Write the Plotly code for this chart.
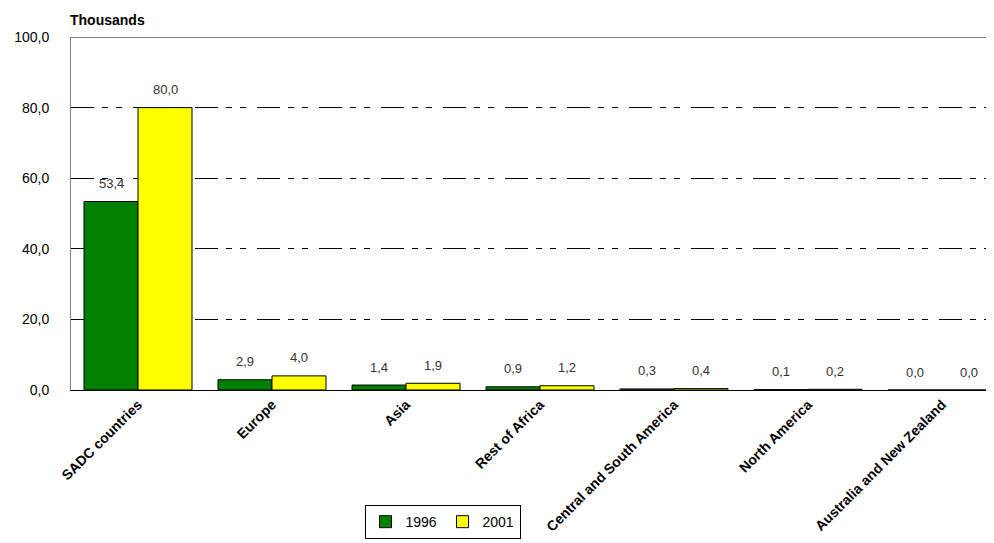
import plotly.graph_objects as go

categories = ["SADC countries", "Europe", "Asia", "Rest of Africa",
              "Central and South America", "North America", "Australia and New Zealand"]
v1996 = [53.4, 2.9, 1.4, 0.9, 0.3, 0.1, 0.0]
v2001 = [80.0, 4.0, 1.9, 1.2, 0.4, 0.2, 0.0]
series_names = ["1996", "2001"]
y_ticks = [0, 20, 40, 60, 80, 100]

SANS = "Liberation Sans, Arial"

fig = go.Figure()
fig.add_trace(go.Bar(x=categories, y=v1996, name=series_names[0],
                     marker=dict(color="#008000", line=dict(color="#000000", width=1))))
fig.add_trace(go.Bar(x=categories, y=v2001, name=series_names[1],
                     marker=dict(color="#FFFF00", line=dict(color="#000000", width=1))))

def fmt(v):
    return f"{v:.1f}".replace(".", ",")

for i, c in enumerate(categories):
    for vals, dx in ((v1996, -27), (v2001, 27)):
        fig.add_annotation(x=c, y=vals[i], text=fmt(vals[i]), showarrow=False,
                           xshift=dx, yshift=18,
                           font=dict(family=SANS, size=13, color="#333333"))

fig.add_annotation(xref="paper", yref="paper", x=-0.003, y=1.0, yshift=17,
                   xanchor="left", yanchor="middle", text="<b>Thousands</b>", showarrow=False,
                   font=dict(family=SANS, size=14, color="#000000"))

fig.update_layout(
    width=986, height=535,
    margin=dict(l=63, r=0, t=29, b=153, autoexpand=False),
    paper_bgcolor="white", plot_bgcolor="white",
    barmode="group", bargap=0.194, bargroupgap=0,
    separators=",.",
    font=dict(family=SANS, size=12, color="#000000"),
    showlegend=True,
    legend=dict(orientation="h", x=0.318, y=-0.326, xanchor="left", yanchor="top",
                bordercolor="#000000", borderwidth=1, bgcolor="white",
                font=dict(family=SANS, size=14), itemwidth=30, tracegroupgap=0,
                entrywidthmode="pixels", entrywidth=32),
    xaxis=dict(range=[-0.5, 6.388], tickangle=-45, showline=True, linecolor="#000000",
               linewidth=1, ticks="", automargin=False,
               tickfont=dict(family=SANS, size=14),
               showgrid=False),
    yaxis=dict(range=[0, 100], tickvals=y_ticks, tickformat=".1f",
               showline=True, linecolor="#808080", linewidth=1, mirror=False,
               showgrid=True, gridcolor="#000000", gridwidth=1,
               griddash="23px,8px,6px,8px,6px,11px", automargin=False,
               zeroline=False, ticks="", ticklabelstandoff=18,
               tickfont=dict(family=SANS, size=14)),
)
fig.update_xaxes(tickprefix="<b>", ticksuffix="</b>")
fig.add_shape(type="line", xref="paper", yref="y", x0=0, x1=1, y0=100, y1=100,
              line=dict(color="#000000", width=1))

fig.write_html("out.html")
